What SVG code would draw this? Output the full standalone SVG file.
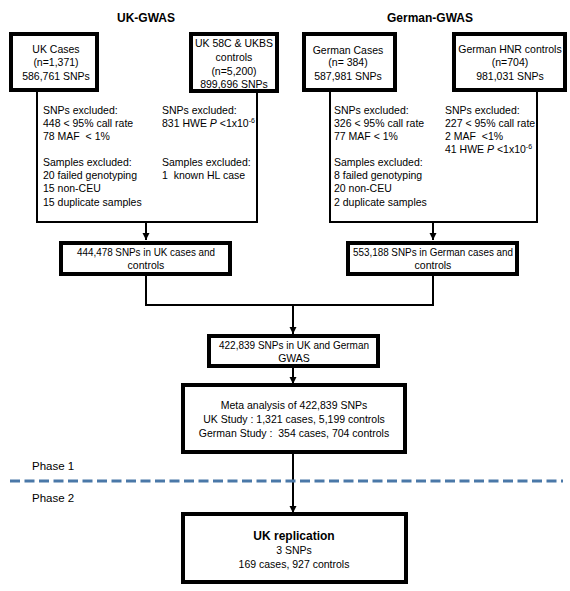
<svg xmlns="http://www.w3.org/2000/svg" width="570" height="591" viewBox="0 0 570 591">
<style>
text{font-family:"Liberation Sans",Arial,sans-serif;font-size:10.5px;fill:#000}
.c{text-anchor:middle}
.t{font-weight:bold;font-size:12px}
.box{fill:#fff;stroke:#000;stroke-width:4}
.ex{fill:none;stroke:#000;stroke-width:2}
.con{fill:none;stroke:#000;stroke-width:2}
.ph{font-size:11.5px}
.sup{font-size:7px}
</style>
<defs>
<marker id="ah" markerUnits="userSpaceOnUse" markerWidth="8" markerHeight="8" refX="7" refY="4" orient="auto">
<path d="M0,0.5 L7,4 L0,7.5 Z" fill="#000"/>
</marker>
</defs>
<rect width="570" height="591" fill="#fff"/>

<text id="title-uk" class="c t" x="146" y="22">UK-GWAS</text>
<text id="title-de" class="c t" x="430" y="22">German-GWAS</text>

<g id="connectors">
<path class="con" d="M146,222 V240" marker-end="url(#ah)"/>
<path class="con" d="M433,222 V240" marker-end="url(#ah)"/>
<path class="con" d="M146,276 V305 H433 V276"/>
<path class="con" d="M293,305 V334" marker-end="url(#ah)"/>
<path class="con" d="M293,368 V384" marker-end="url(#ah)"/>
<path class="con" d="M293,454 V513" marker-end="url(#ah)"/>
</g>

<g id="uk-exclusions">
<path class="ex" d="M37,92 V222 H257 V92"/>
<text x="43" y="114">SNPs excluded:</text>
<text x="43" y="127">448 &lt; 95% call rate</text>
<text x="43" y="140" xml:space="preserve">78 MAF  &lt; 1%</text>
<text x="43" y="166">Samples excluded:</text>
<text x="43" y="179">20 failed genotyping</text>
<text x="43" y="192">15 non-CEU</text>
<text x="43" y="206">15 duplicate samples</text>
<text x="162" y="114">SNPs excluded:</text>
<text x="162" y="127">831 HWE <tspan font-style="italic">P</tspan> &lt;1x10<tspan class="sup" dy="-4">-6</tspan></text>
<text x="162" y="166">Samples excluded:</text>
<text x="162" y="179" xml:space="preserve">1  known HL case</text>
</g>

<g id="de-exclusions">
<path class="ex" d="M330,92 V222 H537 V92"/>
<text x="334" y="114">SNPs excluded:</text>
<text x="334" y="127">326 &lt; 95% call rate</text>
<text x="334" y="140">77 MAF &lt; 1%</text>
<text x="334" y="166">Samples excluded:</text>
<text x="334" y="179">8 failed genotyping</text>
<text x="334" y="192">20 non-CEU</text>
<text x="334" y="206">2 duplicate samples</text>
<text x="445" y="114">SNPs excluded:</text>
<text x="445" y="127">227 &lt; 95% call rate</text>
<text x="445" y="140" xml:space="preserve">2 MAF  &lt;1%</text>
<text x="445" y="153">41 HWE <tspan font-style="italic">P</tspan> &lt;1x10<tspan class="sup" dy="-4">-6</tspan></text>
</g>

<g id="uk-cases">
<rect class="box" x="11" y="34" width="86" height="56"/>
<text class="c" x="56" y="53">UK Cases</text>
<text class="c" x="56" y="66">(n=1,371)</text>
<text class="c" x="56" y="80">586,761 SNPs</text>
</g>

<g id="uk-controls">
<rect class="box" x="191" y="34" width="86" height="57"/>
<text class="c" x="234" y="47">UK 58C &amp; UKBS</text>
<text class="c" x="234" y="61">controls</text>
<text class="c" x="234" y="75">(n=5,200)</text>
<text class="c" x="234" y="88">899,696 SNPs</text>
</g>

<g id="de-cases">
<rect class="box" x="304" y="34" width="91" height="56"/>
<text class="c" x="348" y="54">German Cases</text>
<text class="c" x="348" y="66">(n= 384)</text>
<text class="c" x="348" y="80">587,981 SNPs</text>
</g>

<g id="de-controls">
<rect class="box" x="454" y="34" width="111" height="56"/>
<text class="c" x="510" y="53">German HNR controls</text>
<text class="c" x="510" y="66">(n=704)</text>
<text class="c" x="510" y="80">981,031 SNPs</text>
</g>

<g id="uk-merged">
<rect class="box" x="61" y="243" width="169" height="31"/>
<text class="c" x="146" y="256" textLength="138" lengthAdjust="spacingAndGlyphs">444,478 SNPs in UK cases and</text>
<text class="c" x="146" y="269">controls</text>
</g>

<g id="de-merged">
<rect class="box" x="348" y="243" width="169" height="31"/>
<text class="c" x="433" y="256" textLength="160" lengthAdjust="spacingAndGlyphs">553,188 SNPs in German cases and</text>
<text class="c" x="433" y="269">controls</text>
</g>

<g id="combined">
<rect class="box" x="209" y="336" width="169" height="30"/>
<text class="c" x="294" y="349" textLength="150" lengthAdjust="spacingAndGlyphs">422,839 SNPs in UK and German</text>
<text class="c" x="294" y="362">GWAS</text>
</g>

<g id="meta">
<rect class="box" x="183" y="385" width="222" height="67"/>
<text class="c" x="294" y="409">Meta analysis of 422,839 SNPs</text>
<text class="c" x="294" y="423">UK Study : 1,321 cases, 5,199 controls</text>
<text class="c" x="294" y="437" xml:space="preserve">German Study :  354 cases, 704 controls</text>
</g>

<g id="phases">
<text class="ph" x="32" y="470">Phase 1</text>
<line x1="10" y1="481" x2="563" y2="481" stroke="#4A78A8" stroke-width="3" stroke-dasharray="10,4.5"/>
<text class="ph" x="32" y="502">Phase 2</text>
</g>

<g id="uk-replication">
<rect class="box" x="183" y="514" width="223" height="68"/>
<text class="c t" x="294" y="540">UK replication</text>
<text class="c" x="294" y="554">3 SNPs</text>
<text class="c" x="294" y="568">169 cases, 927 controls</text>
</g>
</svg>
